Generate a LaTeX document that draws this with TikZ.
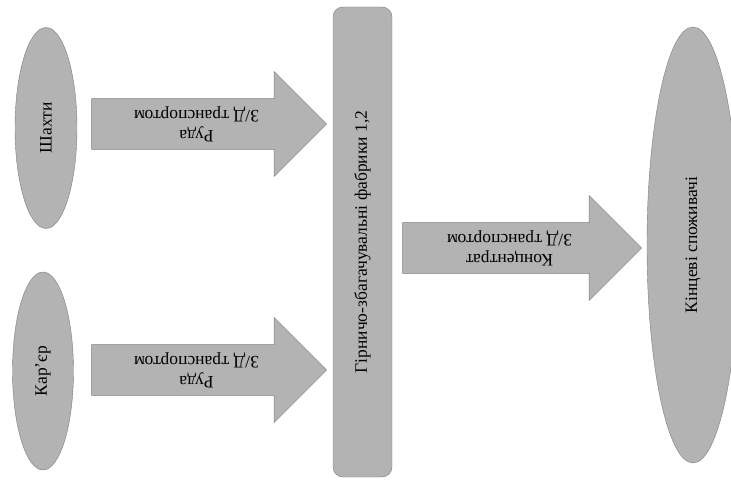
\documentclass[tikz,border=0pt]{standalone}
\usepackage{fontspec}
\setmainfont{Liberation Serif}
\usetikzlibrary{shapes.geometric,shapes.arrows}
\definecolor{sirij}{RGB}{179,179,179}
\definecolor{kontur}{RGB}{125,125,125}
\tikzset{
	ovalnode/.style = {ellipse, draw=kontur, fill=sirij, rotate=90, inner sep=0pt},
	fabryka/.style = {rectangle, rounded corners=10, draw=kontur, fill=sirij, rotate=90, inner sep=0pt},
	strilka/.style = {single arrow, draw=kontur, fill=sirij, rotate=180, shape border rotate=180,
		single arrow head extend=25, minimum width=105, align=center, inner xsep=2pt, inner ysep=5.5pt},
}

\begin{document}
\begin{tikzpicture}[x=1pt, y=-1pt, font=\fontsize{17.5}{20}\selectfont]
	\clip (0,0) rectangle (731,484);
	% dzherela
	\node[ovalnode, minimum width=201, minimum height=62] (shakhty) at (46,128) {Шахти};
	\node[ovalnode, minimum width=198, minimum height=61] (karier) at (43,371) {Кар’єр};
	% fabryky
	\node[fabryka, minimum width=470, minimum height=59] (fabryky) at (362.5,242) {Гірничо-збагачувальні фабрики 1,2};
	% spozhyvachi
	\node[ovalnode, minimum width=436, minimum height=92] (spozhyvachi) at (693,245) {Кінцеві споживачі};
	% strilky
	\node[strilka, minimum height=235] (ruda1) at (196.5,124) {Руда\\З/Д транспортом};
	\node[strilka, minimum height=235] (ruda2) at (196.5,370) {Руда\\З/Д транспортом};
	\node[strilka, minimum height=239] (koncentrat) at (509.5,248) {Концентрат\\З/Д транспортом};
\end{tikzpicture}
\end{document}
